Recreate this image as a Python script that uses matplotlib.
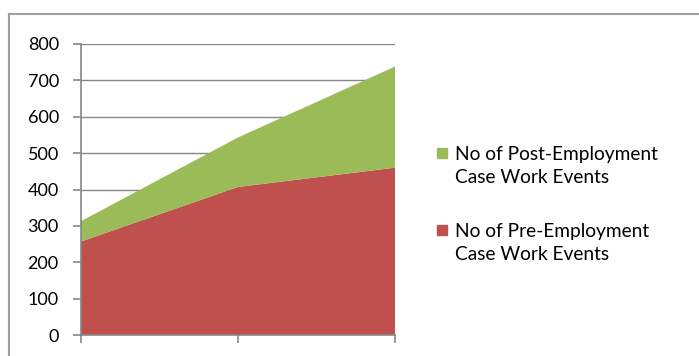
import numpy as np
from matplotlib import pyplot as plt
from matplotlib.lines import Line2D
from matplotlib.patches import Rectangle

# case work events per period
periods = [0, 1, 2]
pre_events = [257, 407, 460]
post_events = [56, 136, 278]
yticks = [0, 100, 200, 300, 400, 500, 600, 700, 800]
labels = ["No of Pre-Employment\nCase Work Events",
          "No of Post-Employment\nCase Work Events"]
colors = ["#C0504D", "#9BBB59"]

plt.rcParams['font.family'] = ['Lato', 'DejaVu Sans']

W, H = 699, 356
fig = plt.figure(figsize=(W/100, H/100), dpi=100)
ax = fig.add_axes([81/W, 21/H, 314/W, 291/H])

ax.stackplot(periods, pre_events, post_events, colors=colors, zorder=2)

ax.set_xlim(0, 2)
ax.set_ylim(0, 800)
ax.set_yticks(yticks)
ax.set_xticks(periods)
ax.set_xticklabels([])
ax.grid(axis='y', color='#868686', linewidth=1, zorder=1)
ax.set_axisbelow(True)

for side in ['top', 'right']:
    ax.spines[side].set_visible(False)
for side in ['left', 'bottom']:
    ax.spines[side].set_color('#868686')
    ax.spines[side].set_linewidth(1.2)
    ax.spines[side].set_zorder(3)
ax.tick_params(axis='both', color='#868686', width=1.2, length=6,
               labelsize=13, labelcolor='black')
ax.tick_params(axis='y', pad=10)

# legend, post-employment on top
def px(x, y):
    return x / W, 1 - y / H

entries = [(labels[1], colors[1], 160), (labels[0], colors[0], 237)]
for text, color, base in entries:
    x0, y0 = px(437, base - 2)
    fig.add_artist(Rectangle((x0, y0), 10/W, 10/H, transform=fig.transFigure,
                             color=color))
    for i, line in enumerate(text.split('\n')):
        tx, ty = px(455, base + 23*i)
        fig.text(tx, ty, line, fontsize=13.8, va='baseline', ha='left')

# outer chart border
fig.add_artist(Line2D([9/W, 1], [1 - 14/H, 1 - 14/H],
                      transform=fig.transFigure, color='#a0a0a0', linewidth=1.5))
fig.add_artist(Line2D([9/W, 9/W], [0, 1 - 14/H],
                      transform=fig.transFigure, color='#a0a0a0', linewidth=1.5))

fig.savefig('out.png', dpi=100)
